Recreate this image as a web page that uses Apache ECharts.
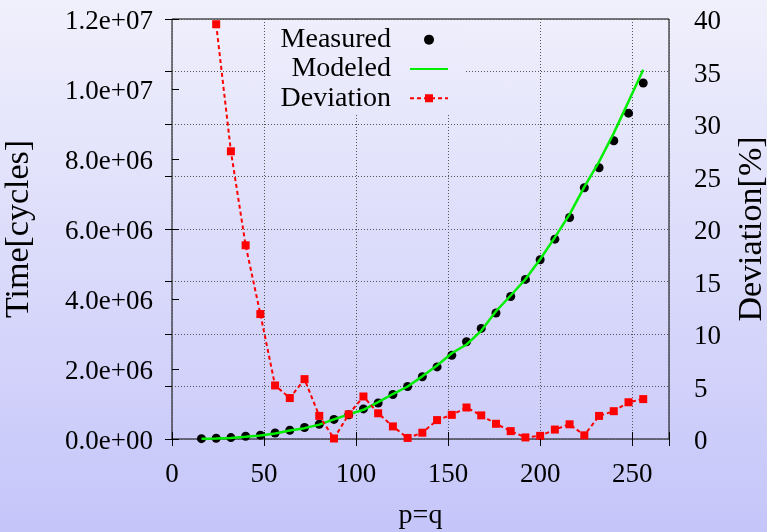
<!DOCTYPE html>
<html>
<head>
<meta charset="utf-8">
<script src="https://cdn.jsdelivr.net/npm/echarts@6/dist/echarts.min.js"></script>
<style>
  html, body { margin: 0; padding: 0; }
  #chart {
    width: 767px; height: 532px;
    background: linear-gradient(to bottom, #f0f0fc 0%, #c5c5fa 100%);
  }
</style>
</head>
<body>
<div id="chart"></div>
<script>
// Problem size p=q for every run
const sizes = [16, 24, 32, 40, 48, 56, 64, 72, 80, 88, 96, 104, 112, 120, 128, 136,
               144, 152, 160, 168, 176, 184, 192, 200, 208, 216, 224, 232, 240, 248, 256];

// Measured run time (cycles)
const measured = [0.01e6, 0.02e6, 0.04e6, 0.077e6, 0.11e6, 0.17e6, 0.25e6, 0.33e6, 0.42e6, 0.56e6,
                  0.69e6, 0.86e6, 1.03e6, 1.27e6, 1.50e6, 1.78e6, 2.06e6, 2.39e6, 2.78e6, 3.16e6,
                  3.60e6, 4.07e6, 4.56e6, 5.12e6, 5.71e6, 6.33e6, 7.18e6, 7.75e6, 8.52e6, 9.31e6, 10.17e6];

// Modeled run time (cycles)
const modeled = [0.01e6, 0.012e6, 0.03e6, 0.063e6, 0.097e6, 0.16e6, 0.24e6, 0.31e6, 0.41e6, 0.56e6,
                 0.705e6, 0.835e6, 1.055e6, 1.285e6, 1.50e6, 1.79e6, 2.10e6, 2.45e6, 2.70e6, 3.09e6,
                 3.65e6, 4.10e6, 4.565e6, 5.135e6, 5.76e6, 6.42e6, 7.205e6, 7.92e6, 8.74e6, 9.64e6, 10.55e6];

// Deviation between model and measurement (%), first size has no value
const devSizes = sizes.slice(1);
const deviation = [39.5, 27.4, 18.45, 11.9, 5.1, 3.9, 5.7, 2.2, 0.05, 2.35,
                   4.05, 2.45, 1.2, 0.1, 0.6, 1.8, 2.3, 3.0, 2.25, 1.45,
                   0.75, 0.15, 0.3, 0.9, 1.4, 0.35, 2.2, 2.65, 3.5, 3.8];

const xTicks = [0, 50, 100, 150, 200, 250];

const FONT = 'Liberation Serif';
const chart = echarts.init(document.getElementById('chart'), null, { renderer: 'canvas' });

function sci(v) {
  if (v === 0) return '0.0e+00';
  const e = Math.floor(Math.log10(v) + 1e-9);
  const m = v / Math.pow(10, e);
  return m.toFixed(1) + 'e+' + String(e).padStart(2, '0');
}

const gridDot = { color: '#555', width: 1, type: [1, 2] };
const tickStyle = { color: '#000', width: 1 };
// y tick labels sit a little below their tick, as in gnuplot output
const yLabelRich = { t: { fontFamily: FONT, fontSize: 27, color: '#000', padding: [6, 0, 0, 0] } };

// background colour of the page at a given height, used for the key box
function bgAt(y) {
  const t = y / 532;
  const c0 = [240, 240, 252], c1 = [197, 197, 250];
  const c = c0.map((a, i) => Math.round(a + (c1[i] - a) * t));
  return 'rgb(' + c.join(',') + ')';
}

const option = {
  animation: false,
  backgroundColor: 'transparent',
  textStyle: { fontFamily: FONT, color: '#000' },
  grid: {
    left: 172, right: 98, top: 19, bottom: 93,
    outerBoundsMode: 'none', containLabel: false,
    show: true, borderColor: '#000', borderWidth: 1, backgroundColor: 'transparent'
  },
  graphic: [{
    type: 'rect', z: 1, silent: true,
    shape: { x: 265, y: 20, width: 200, height: 93 },
    style: {
      fill: new echarts.graphic.LinearGradient(0, 0, 0, 1, [
        { offset: 0, color: bgAt(20) }, { offset: 1, color: bgAt(113) }
      ])
    }
  }],
  legend: {
    orient: 'vertical', align: 'right',
    right: 318, top: 25, padding: 0, itemGap: 0,
    itemWidth: 38, itemHeight: 10,
    textStyle: { fontFamily: FONT, fontSize: 28, color: '#000', lineHeight: 29.3, padding: [0, 14, 0, 0] },
    data: [
      { name: 'Measured' },
      { name: 'Modeled', itemStyle: { opacity: 0 } },
      { name: 'Deviation' }
    ],
    selectedMode: false
  },
  xAxis: [{
    type: 'value', position: 'bottom', min: 0, max: 270, interval: 50,
    name: 'p=q', nameLocation: 'middle', nameGap: 63,
    nameTextStyle: { fontFamily: FONT, fontSize: 28, color: '#000' },
    axisLine: { show: false },
    axisTick: { inside: true, length: 7, lineStyle: tickStyle },
    axisLabel: {
      fontFamily: FONT, fontSize: 27, color: '#000', margin: 22,
      formatter: v => (xTicks.indexOf(v) >= 0 ? String(v) : '')
    },
    splitLine: { show: true, lineStyle: gridDot }
  }, {
    type: 'value', position: 'top', min: 0, max: 270, interval: 50, z: 5,
    axisLine: { show: false },
    axisTick: { inside: true, length: 7, lineStyle: tickStyle },
    axisLabel: { show: false },
    splitLine: { show: false }
  }],
  yAxis: [{
    type: 'value', position: 'left', min: 0, max: 1.2e7, interval: 2e6,
    name: 'Time[cycles]', nameLocation: 'middle', nameGap: 136, nameRotate: 90,
    nameTextStyle: { fontFamily: FONT, fontSize: 34, color: '#000' },
    axisLine: { show: false },
    axisTick: { inside: true, length: 7, lineStyle: tickStyle },
    axisLabel: { margin: 19, rich: yLabelRich, formatter: v => '{t|' + sci(v) + '}' },
    splitLine: { show: false }
  }, {
    type: 'value', position: 'right', min: 0, max: 40, interval: 5,
    name: 'Deviation[%]', nameLocation: 'middle', nameGap: 66, nameRotate: 90,
    nameTextStyle: { fontFamily: FONT, fontSize: 34, color: '#000' },
    axisLine: { show: false },
    axisTick: { inside: true, length: 7, lineStyle: tickStyle },
    axisLabel: { margin: 25, rich: yLabelRich, formatter: v => '{t|' + v + '}' },
    splitLine: { show: true, lineStyle: gridDot }
  }],
  series: [{
    name: 'Measured', type: 'scatter', xAxisIndex: 0, yAxisIndex: 0,
    symbol: 'circle', symbolSize: 9, symbolKeepAspect: true,
    itemStyle: { color: '#000', opacity: 1 },
    data: sizes.map((s, i) => [s, measured[i]])
  }, {
    name: 'Modeled', type: 'line', xAxisIndex: 0, yAxisIndex: 0,
    symbol: 'none', showSymbol: false,
    lineStyle: { color: '#00ee00', width: 2.5 },
    itemStyle: { color: '#00ee00' },
    data: sizes.map((s, i) => [s, modeled[i]])
  }, {
    name: 'Deviation', type: 'line', xAxisIndex: 0, yAxisIndex: 1,
    symbol: 'rect', symbolSize: 8, showSymbol: true,
    lineStyle: { color: '#ff0000', width: 2, type: [4, 3] },
    itemStyle: { color: '#ff0000' },
    data: devSizes.map((s, i) => [s, deviation[i]])
  }]
};

chart.setOption(option);
</script>
</body>
</html>
